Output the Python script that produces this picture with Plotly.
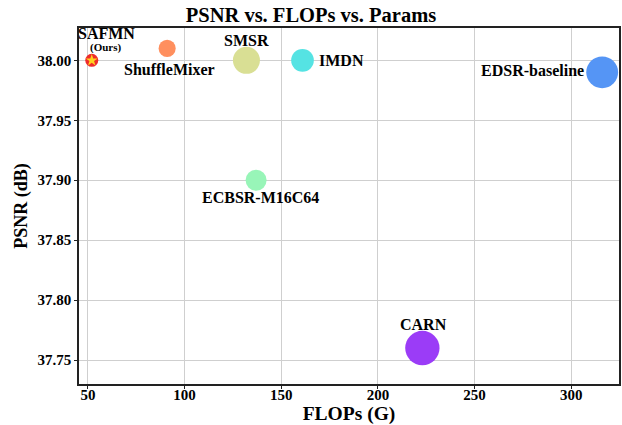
import plotly.graph_objects as go

models = ["SAFMN", "ShuffleMixer", "SMSR", "IMDN", "ECBSR-M16C64", "CARN", "EDSR-baseline"]
flops = [52, 91, 132, 161, 137, 223, 316]
psnr = [38.00, 38.01, 38.00, 38.00, 37.90, 37.76, 37.99]
params_k = [228, 394, 985, 694, 596, 1592, 1370]
colors = ["#ee2b2b", "#ff8f5e", "#d9df94", "#55e3e3", "#98f5b8", "#9b3cf7", "#5595f5"]

x_ticks = [50, 100, 150, 200, 250, 300]
y_ticks = [37.75, 37.80, 37.85, 37.90, 37.95, 38.00]

FONT = "Liberation Serif"

fig = go.Figure()
fig.add_trace(go.Scatter(
    x=flops, y=psnr, mode="markers",
    marker=dict(size=params_k, sizemode="area", sizeref=2.7, color=colors,
                line=dict(width=0), opacity=1),
    hoverinfo="skip", showlegend=False,
))
# star on SAFMN
fig.add_trace(go.Scatter(
    x=[flops[0]], y=[psnr[0]], mode="markers",
    marker=dict(symbol="star", size=9, color="#ffd21f", line=dict(width=0)),
    hoverinfo="skip", showlegend=False,
))

# label offsets (px): xshift, yshift, xanchor
label_cfg = {
    "SAFMN": (15, 27, "center"),
    "ShuffleMixer": (2, -21, "center"),
    "SMSR": (0, 20, "center"),
    "IMDN": (14, 0, "left"),
    "ECBSR-M16C64": (4, -17, "center"),
    "CARN": (1, 24, "center"),
    "EDSR-baseline": (-16, 2, "right"),
}
for m, fx, py in zip(models, flops, psnr):
    xs, ys, xa = label_cfg[m]
    fig.add_annotation(x=fx, y=py, text=f"<b>{m}</b>", showarrow=False,
                       xshift=xs, yshift=ys, xanchor=xa, yanchor="middle",
                       font=dict(family=FONT, size=16, color="black"))
fig.add_annotation(x=flops[0], y=psnr[0], text="<b>(Ours)</b>", showarrow=False,
                   xshift=14, yshift=13, xanchor="center", yanchor="middle",
                   font=dict(family=FONT, size=11, color="black"))

fig.update_layout(
    width=622, height=425,
    margin=dict(l=79, r=1, t=28, b=41),
    paper_bgcolor="white", plot_bgcolor="white",
    title=dict(text="<b>PSNR vs. FLOPs vs. Params</b>", x=0.5, xanchor="center",
               y=1 - 15 / 425, yanchor="middle",
               font=dict(family=FONT, size=20.5, color="black")),
    font=dict(family=FONT, color="black"),
)
fig.update_xaxes(
    range=[45.4, 324.7], tickvals=x_ticks, ticktext=[f"<b>{v}</b>" for v in x_ticks],
    tickfont=dict(family=FONT, size=15, color="black"),
    showgrid=True, gridcolor="#cfcfcf", gridwidth=1, zeroline=False,
    showline=True, linecolor="#222", linewidth=1.5, mirror=True,
    ticks="outside", ticklen=3, tickcolor="#222", ticklabelstandoff=-7,
    title=dict(text="<b>FLOPs (G)</b>", font=dict(family=FONT, size=19.5, color="black"), standoff=5),
)
fig.update_yaxes(
    range=[37.730, 38.027], tickvals=y_ticks, ticktext=[f"<b>{v:.2f}</b>" for v in y_ticks],
    tickfont=dict(family=FONT, size=15, color="black"),
    showgrid=True, gridcolor="#cfcfcf", gridwidth=1, zeroline=False,
    showline=True, linecolor="#222", linewidth=1.5, mirror=True,
    ticks="outside", ticklen=3, tickcolor="#222",
    title=dict(text="<b>PSNR (dB)</b>", font=dict(family=FONT, size=18, color="black"), standoff=5),
)

fig.write_html("out.html", config={"displayModeBar": False},
               post_script="document.body.style.margin='0';document.body.style.overflow='hidden';")
